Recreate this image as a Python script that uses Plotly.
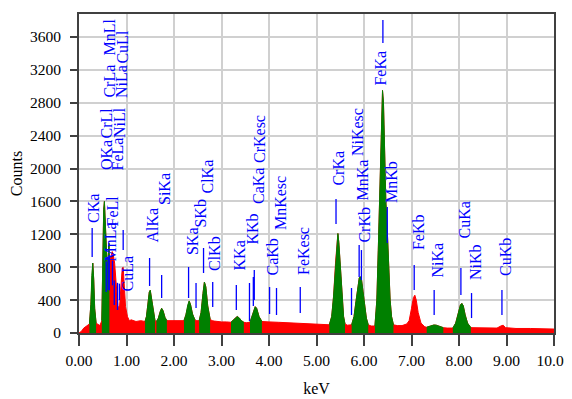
import plotly.graph_objects as go

# ---- spectrum (keV, counts) ----
energy = [0.00, 0.05, 0.10, 0.15, 0.20, 0.22, 0.25, 0.27, 0.29, 0.31, 0.33, 0.36,
          0.40, 0.44, 0.48, 0.50, 0.52, 0.535, 0.555, 0.575, 0.595, 0.615, 0.63, 0.64,
          0.66, 0.68, 0.70, 0.72, 0.75, 0.78, 0.82, 0.85, 0.88, 0.91, 0.93, 0.95, 0.98,
          1.02, 1.06, 1.10, 1.20, 1.30, 1.39, 1.42, 1.45, 1.48, 1.50, 1.53, 1.56, 1.60,
          1.63, 1.67, 1.71, 1.74, 1.77, 1.81, 1.85, 1.90, 2.00, 2.10, 2.21, 2.25, 2.29,
          2.32, 2.35, 2.39, 2.44, 2.48, 2.53, 2.57, 2.61, 2.64, 2.67, 2.71, 2.76, 2.80,
          2.85, 2.90, 3.00, 3.10, 3.20, 3.25, 3.30, 3.33, 3.37, 3.42, 3.47, 3.52, 3.60,
          3.64, 3.68, 3.71, 3.74, 3.79, 3.85, 3.90, 4.00, 4.20, 4.40, 4.60, 4.80, 5.00,
          5.20, 5.27, 5.32, 5.36, 5.40, 5.43, 5.45, 5.47, 5.50, 5.54, 5.57, 5.60, 5.65,
          5.74, 5.79, 5.83, 5.87, 5.90, 5.92, 5.95, 5.98, 6.02, 6.05, 6.09, 6.15, 6.23,
          6.27, 6.30, 6.33, 6.36, 6.38, 6.39, 6.41, 6.43, 6.46, 6.49, 6.52, 6.55, 6.58,
          6.62, 6.70, 6.80, 6.90, 6.95, 7.00, 7.04, 7.07, 7.10, 7.14, 7.20, 7.28, 7.32,
          7.40, 7.47, 7.52, 7.60, 7.67, 7.75, 7.87, 7.93, 7.98, 8.03, 8.06, 8.09, 8.13,
          8.18, 8.25, 8.40, 8.60, 8.80, 8.88, 8.93, 8.98, 9.20, 9.50, 9.80, 10.00]
counts = [0, 20, 60, 80, 100, 110, 350, 700, 850, 650, 300, 120,
          100, 90, 150, 1050, 1500, 1600, 1250, 850, 770, 930, 1090, 880,
          900, 950, 990, 960, 850, 620, 330, 290, 560, 790, 800, 560, 320,
          200, 150, 160, 140, 150, 140, 200, 350, 500, 520, 400, 250, 150,
          140, 180, 260, 300, 270, 190, 150, 150, 155, 150, 150, 220, 340,
          390, 340, 230, 160, 150, 150, 250, 480, 620, 560, 330, 170, 150,
          145, 140, 135, 135, 130, 160, 190, 200, 185, 150, 130, 125, 130,
          200, 290, 320, 300, 200, 140, 140, 135, 130, 125, 120, 115, 110,
          105, 100, 200, 450, 850, 1150, 1210, 1100, 800, 400, 200, 110, 95,
          100, 200, 380, 580, 670, 685, 640, 500, 300, 180, 100, 85, 85,
          400, 1000, 1700, 2600, 2850, 2950, 2800, 2300, 1600, 1250, 800, 400, 200,
          100, 90, 90, 110, 150, 300, 430, 460, 400, 250, 120, 75, 70,
          85, 97, 95, 80, 65, 60, 60, 120, 230, 340, 360, 330, 220,
          120, 65, 62, 60, 60, 85, 95, 65, 55, 55, 50, 48]

# identified-peak windows (keV) shown in green
win_lo = [0.22, 0.48, 1.39, 1.63, 2.21, 2.53, 3.20, 3.60, 5.27, 5.74, 6.23, 7.32, 7.87]
win_hi = [0.36, 0.64, 1.60, 1.85, 2.44, 2.76, 3.47, 3.85, 5.60, 6.09, 6.62, 7.67, 8.25]

# ---- peak labels ----
lab_name = ["CKa", "OKa", "CrLl", "CrLa", "MnLl", "MnLa", "FeLl", "FeLa", "NiLl", "NiLa",
            "CuLl", "CuLa", "AlKa", "SiKa", "SKa", "SKb", "ClKa", "ClKb", "KKa", "KKb",
            "CaKa", "CrKesc", "CaKb", "MnKesc", "FeKesc", "CrKa", "NiKesc", "MnKa", "CrKb",
            "FeKa", "MnKb", "FeKb", "NiKa", "NiKb", "CuKa", "CuKb"]
lab_energy = [0.277, 0.525, 0.500, 0.573, 0.556, 0.637, 0.615, 0.705, 0.743, 0.851,
              0.811, 0.930, 1.486, 1.740, 2.307, 2.464, 2.622, 2.815, 3.312, 3.589,
              3.690, 3.670, 4.012, 4.158, 4.658, 5.411, 5.737, 5.898, 5.946,
              6.398, 6.490, 7.057, 7.477, 8.264, 8.040, 8.904]

# label layout: text centre x (keV), text bottom (counts), marker line from/to (counts)
txt_x = [0.305, 0.568, 0.589, 0.653, 0.653, 0.674, 0.695, 0.821, 0.853, 0.895,
         0.926, 1.021, 1.558, 1.789, 2.379, 2.558, 2.705, 2.853, 3.379, 3.642,
         3.768, 3.789, 4.084, 4.232, 4.716, 5.474, 5.853, 5.979, 6.011,
         6.358, 6.568, 7.137, 7.558, 8.337, 8.126, 8.968]
txt_y = [1313, 1958, 2347, 2833, 3344, 839, 1265, 1946, 2347, 2833,
         3259, 474, 1070, 1532, 924, 1252, 1678, 730, 730, 1046,
         1544, 2043, 681, 1228, 681, 1763, 2128, 1581, 1070,
         2979, 1556, 985, 644, 620, 1131, 669]
ln_y0 = [924, None, None, 500, None, 520, 520, 580, 340, 400,
         280, 1009, 572, 426, 426, 304, 730, 316, 280, 146,
         401, 328, 231, 219, 243, 1325, 219, 681, 644,
         3526, 1094, 523, 219, 182, 462, 219]
ln_y1 = [1277, None, None, 870, None, 950, 920, 880, 640, 600,
         610, 1252, 912, 705, 803, 608, 1034, 620, 584, 608,
         766, 681, 559, 547, 559, 1629, 547, 1070, 1009,
         3806, 1532, 827, 523, 486, 790, 523]

RED = "#ff0000"
GREEN = "#008000"
BLUE = "#0000ff"
FONT = "Liberation Serif"

fig = go.Figure()
fig.add_trace(go.Scatter(x=energy, y=counts, mode="lines", fill="tozeroy",
                         line=dict(color=RED, width=1), fillcolor=RED,
                         hoverinfo="skip", showlegend=False))
for lo, hi in zip(win_lo, win_hi):
    xs = [e for e in energy if lo <= e <= hi]
    ys = [c for e, c in zip(energy, counts) if lo <= e <= hi]
    fig.add_trace(go.Scatter(x=xs, y=ys, mode="lines", fill="tozeroy",
                             line=dict(color=GREEN, width=1), fillcolor=GREEN,
                             hoverinfo="skip", showlegend=False))

lx, ly = [], []
for e, a, b in zip(lab_energy, ln_y0, ln_y1):
    if a is None:
        continue
    lx += [e, e, None]
    ly += [a, b, None]
fig.add_trace(go.Scatter(x=lx, y=ly, mode="lines", line=dict(color=BLUE, width=1.3),
                         hoverinfo="skip", showlegend=False))

for name, tx, ty in zip(lab_name, txt_x, txt_y):
    fig.add_annotation(x=tx, y=ty, xref="x", yref="y", text=name, showarrow=False,
                       textangle=-90, xanchor="center", yanchor="bottom",
                       font=dict(family=FONT, size=16, color=BLUE))

axis_common = dict(showline=True, linecolor="#404040", linewidth=2, mirror=True,
                   showgrid=True, gridcolor="#d0d0d0", gridwidth=1.5,
                   ticks="outside", tickcolor="#404040", tickwidth=1.5,
                   tickfont=dict(family=FONT, size=15.5, color="black"), zeroline=False,
                   automargin=False)

fig.update_xaxes(range=[0, 10], dtick=1, tick0=0, tickformat=".2f", ticklen=11,
                 ticklabelstandoff=1,
                 title=dict(text="keV", font=dict(family=FONT, size=16, color="black"),
                            standoff=15), **axis_common)
fig.update_yaxes(range=[0, 3880], dtick=400, tick0=0, ticklen=7,
                 ticklabelstandoff=6,
                 title=dict(text="Counts", font=dict(family=FONT, size=16, color="black"),
                            standoff=10), **axis_common)

# the page body adds an 8 px offset, so the figure is 8 px smaller than the window
fig.update_layout(width=564, height=391, margin=dict(l=71, r=18, t=6, b=66),
                  plot_bgcolor="white", paper_bgcolor="white", showlegend=False)

fig.write_html("out.html")
